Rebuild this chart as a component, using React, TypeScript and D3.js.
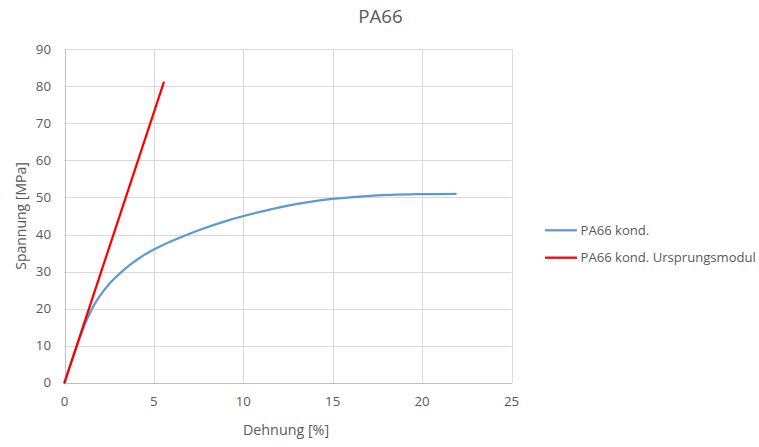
import React from "react";
import * as d3 from "d3";

const W = 759;
const H = 447;

const title = "PA66";
const xAxisTitle = "Dehnung [%]";
const yAxisTitle = "Spannung [MPa]";
const xTicks = [0, 5, 10, 15, 20, 25];
const yTicks = [0, 10, 20, 30, 40, 50, 60, 70, 80, 90];

const seriesNames = ["PA66 kond.", "PA66 kond. Ursprungsmodul"];
const seriesColors = ["#5b9bd5", "#ff0000"];

// PA66 kond. (strain %, stress MPa)
const kondStrain = [0, 0.5, 1.0, 1.28, 1.61, 1.99, 2.55, 3.1, 3.66, 4.3, 4.97, 5.6, 6.27, 7.58, 9.07, 10.94, 12.5, 13.55, 14.98, 17.28, 20.0, 21.88];
const kondStress = [0, 7.2, 14.0, 17.3, 20.6, 23.5, 26.9, 29.5, 31.8, 34.0, 35.9, 37.4, 38.8, 41.3, 43.7, 46.1, 47.8, 48.7, 49.6, 50.5, 50.9, 51.0];

// Ursprungsmodul line
const modulStrain = [0, 5.55];
const modulStress = [0, 81];

const font = "'Segoe UI', 'Open Sans', 'Noto Sans', sans-serif";
const textColor = "#595959";

export default function App() {
  const left = 64.5, right = 511.5, top = 49.3, bottom = 382.7;
  const x = d3.scaleLinear().domain([0, 25]).range([left, right]);
  const y = d3.scaleLinear().domain([0, 90]).range([bottom, top]);

  const line = d3
    .line<[number, number]>()
    .x((d) => x(d[0]))
    .y((d) => y(d[1]))
    .curve(d3.curveCatmullRom.alpha(0.5));

  const kond: [number, number][] = kondStrain.map((v, i) => [v, kondStress[i]]);
  const modul: [number, number][] = modulStrain.map((v, i) => [v, modulStress[i]]);

  return (
    <svg
      width={W}
      height={H}
      style={{ position: "absolute", left: 0, top: 0, background: "#fff" }}
      fontFamily={font}
    >
      <rect x={0} y={0} width={W} height={H} fill="#fff" />
      {/* gridlines */}
      {yTicks.map((t) => (
        <line key={"gy" + t} x1={left} x2={right} y1={Math.round(y(t)) + 0.5} y2={Math.round(y(t)) + 0.5} stroke="#d9d9d9" strokeWidth={1} />
      ))}
      {xTicks.map((t) => (
        <line key={"gx" + t} x1={Math.round(x(t)) + 0.5} x2={Math.round(x(t)) + 0.5} y1={top} y2={bottom} stroke="#d9d9d9" strokeWidth={1} />
      ))}
      {/* axes */}
      <line x1={left} x2={right} y1={Math.round(y(0)) + 0.5} y2={Math.round(y(0)) + 0.5} stroke="#bfbfbf" strokeWidth={1} />
      <line x1={Math.round(x(0)) + 0.5} x2={Math.round(x(0)) + 0.5} y1={top} y2={bottom} stroke="#bfbfbf" strokeWidth={1} />
      {/* tick labels */}
      {yTicks.map((t) => (
        <text key={"ly" + t} x={51} y={y(t)} dy="0.35em" textAnchor="end" fontSize={13.3} fill={textColor}>
          {t}
        </text>
      ))}
      {xTicks.map((t) => (
        <text key={"lx" + t} x={x(t)} y={406} textAnchor="middle" fontSize={13.3} fill={textColor}>
          {t}
        </text>
      ))}
      {/* series */}
      <path d={line(kond) || ""} fill="none" stroke={seriesColors[0]} strokeWidth={2.25} strokeLinecap="round" />
      <path d={line(modul) || ""} fill="none" stroke={seriesColors[1]} strokeWidth={2.25} strokeLinecap="round" />
      {/* titles */}
      <text x={380.5} y={22.5} textAnchor="middle" fontSize={18.7} fill={textColor}>
        {title}
      </text>
      <text x={286} y={435} textAnchor="middle" fontSize={14.3} fill={textColor}>
        {xAxisTitle}
      </text>
      <text transform={`translate(26,${(top + bottom) / 2}) rotate(-90)`} textAnchor="middle" fontSize={14} fill={textColor}>
        {yAxisTitle}
      </text>
      {/* legend */}
      {seriesNames.map((n, i) => {
        const ly = 230.3 + i * 27.4;
        return (
          <g key={n}>
            <line x1={545} x2={577} y1={ly} y2={ly} stroke={seriesColors[i]} strokeWidth={2.25} />
            <text x={580.5} y={ly} dy="0.35em" fontSize={13.1} fill={textColor}>
              {n}
            </text>
          </g>
        );
      })}
    </svg>
  );
}
